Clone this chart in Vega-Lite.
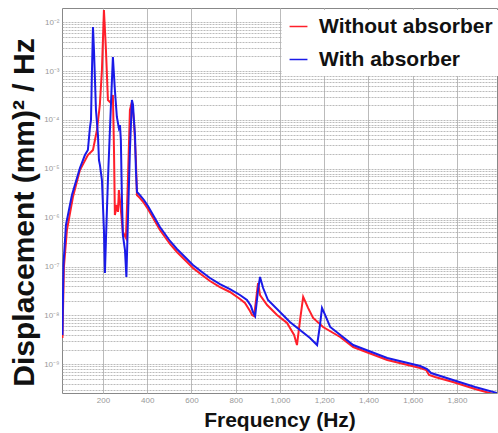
{
  "$schema": "https://vega.github.io/schema/vega-lite/v6.json",
  "width": 435,
  "height": 385,
  "autosize": {"type": "none"},
  "padding": {"left": 62, "top": 8, "right": 1, "bottom": 40},
  "background": "white",
  "config": {
    "view": {"stroke": "#888", "strokeWidth": 1},
    "font": "Liberation Sans"
  },
  "data": {
    "values": [
      {"series": "Without absorber", "f": 17, "d": 3.44e-9},
      {"series": "Without absorber", "f": 23.7, "d": 9.77e-8},
      {"series": "Without absorber", "f": 37.3, "d": 5.58e-7},
      {"series": "Without absorber", "f": 64.4, "d": 2.64e-6},
      {"series": "Without absorber", "f": 96, "d": 9.44e-6},
      {"series": "Without absorber", "f": 132, "d": 1.91e-5},
      {"series": "Without absorber", "f": 155, "d": 2.42e-5},
      {"series": "Without absorber", "f": 173, "d": 6.22e-5},
      {"series": "Without absorber", "f": 186, "d": 2.02e-4},
      {"series": "Without absorber", "f": 195.5, "d": 1.05e-3},
      {"series": "Without absorber", "f": 204.5, "d": 1.78e-2},
      {"series": "Without absorber", "f": 213.6, "d": 2.70e-3},
      {"series": "Without absorber", "f": 222.6, "d": 2.56e-4},
      {"series": "Without absorber", "f": 236, "d": 2.22e-4},
      {"series": "Without absorber", "f": 245, "d": 3.24e-4},
      {"series": "Without absorber", "f": 250, "d": 2.42e-5},
      {"series": "Without absorber", "f": 254, "d": 1.13e-6},
      {"series": "Without absorber", "f": 263, "d": 1.82e-6},
      {"series": "Without absorber", "f": 268, "d": 1.31e-6},
      {"series": "Without absorber", "f": 272, "d": 3.68e-6},
      {"series": "Without absorber", "f": 281, "d": 1.44e-6},
      {"series": "Without absorber", "f": 290, "d": 5.08e-7},
      {"series": "Without absorber", "f": 304, "d": 3.83e-7},
      {"series": "Without absorber", "f": 313, "d": 5.90e-6},
      {"series": "Without absorber", "f": 322, "d": 1.60e-4},
      {"series": "Without absorber", "f": 331, "d": 2.33e-4},
      {"series": "Without absorber", "f": 340, "d": 9.95e-5},
      {"series": "Without absorber", "f": 349, "d": 1.51e-5},
      {"series": "Without absorber", "f": 353.7, "d": 2.90e-6},
      {"series": "Without absorber", "f": 367.3, "d": 2.52e-6},
      {"series": "Without absorber", "f": 385.3, "d": 2.00e-6},
      {"series": "Without absorber", "f": 403.4, "d": 1.50e-6},
      {"series": "Without absorber", "f": 421.5, "d": 1.08e-6},
      {"series": "Without absorber", "f": 439.6, "d": 7.76e-7},
      {"series": "Without absorber", "f": 457.7, "d": 5.58e-7},
      {"series": "Without absorber", "f": 480.3, "d": 4.02e-7},
      {"series": "Without absorber", "f": 502.9, "d": 2.89e-7},
      {"series": "Without absorber", "f": 534.5, "d": 1.98e-7},
      {"series": "Without absorber", "f": 570.7, "d": 1.36e-7},
      {"series": "Without absorber", "f": 606.8, "d": 9.31e-8},
      {"series": "Without absorber", "f": 647.5, "d": 6.70e-8},
      {"series": "Without absorber", "f": 683.7, "d": 5.05e-8},
      {"series": "Without absorber", "f": 728.9, "d": 3.80e-8},
      {"series": "Without absorber", "f": 774.1, "d": 3.01e-8},
      {"series": "Without absorber", "f": 819.3, "d": 2.16e-8},
      {"series": "Without absorber", "f": 841.9, "d": 1.79e-8},
      {"series": "Without absorber", "f": 864.5, "d": 1.23e-8},
      {"series": "Without absorber", "f": 874, "d": 1.02e-8},
      {"series": "Without absorber", "f": 883, "d": 9.68e-9},
      {"series": "Without absorber", "f": 892, "d": 2.06e-8},
      {"series": "Without absorber", "f": 901, "d": 4.59e-8},
      {"series": "Without absorber", "f": 910, "d": 2.61e-8},
      {"series": "Without absorber", "f": 942, "d": 1.63e-8},
      {"series": "Without absorber", "f": 987, "d": 1.02e-8},
      {"series": "Without absorber", "f": 1032, "d": 6.97e-9},
      {"series": "Without absorber", "f": 1064, "d": 3.96e-9},
      {"series": "Without absorber", "f": 1077, "d": 2.47e-9},
      {"series": "Without absorber", "f": 1091, "d": 8.04e-9},
      {"series": "Without absorber", "f": 1105, "d": 2.38e-8},
      {"series": "Without absorber", "f": 1127, "d": 1.42e-8},
      {"series": "Without absorber", "f": 1150, "d": 8.83e-9},
      {"series": "Without absorber", "f": 1195, "d": 5.78e-9},
      {"series": "Without absorber", "f": 1272, "d": 3.61e-9},
      {"series": "Without absorber", "f": 1331, "d": 2.25e-9},
      {"series": "Without absorber", "f": 1485, "d": 1.22e-9},
      {"series": "Without absorber", "f": 1634, "d": 8.36e-10},
      {"series": "Without absorber", "f": 1661, "d": 7.60e-10},
      {"series": "Without absorber", "f": 1674, "d": 6.01e-10},
      {"series": "Without absorber", "f": 1701, "d": 5.47e-10},
      {"series": "Without absorber", "f": 1782, "d": 4.33e-10},
      {"series": "Without absorber", "f": 1882, "d": 3.11e-10},
      {"series": "Without absorber", "f": 1981, "d": 2.34e-10},
      {"series": "With absorber", "f": 17, "d": 3.96e-9},
      {"series": "With absorber", "f": 21.5, "d": 1.07e-7},
      {"series": "With absorber", "f": 32.8, "d": 7.06e-7},
      {"series": "With absorber", "f": 59.9, "d": 2.90e-6},
      {"series": "With absorber", "f": 96, "d": 1.04e-5},
      {"series": "With absorber", "f": 118.7, "d": 1.91e-5},
      {"series": "With absorber", "f": 132, "d": 2.42e-5},
      {"series": "With absorber", "f": 141, "d": 6.82e-5},
      {"series": "With absorber", "f": 146, "d": 9.95e-5},
      {"series": "With absorber", "f": 150.5, "d": 1.05e-3},
      {"series": "With absorber", "f": 155, "d": 7.98e-3},
      {"series": "With absorber", "f": 159.5, "d": 2.70e-3},
      {"series": "With absorber", "f": 168.5, "d": 1.60e-4},
      {"series": "With absorber", "f": 177.5, "d": 4.91e-5},
      {"series": "With absorber", "f": 182, "d": 1.51e-5},
      {"series": "With absorber", "f": 186.5, "d": 1.19e-5},
      {"series": "With absorber", "f": 195.5, "d": 5.89e-6},
      {"series": "With absorber", "f": 204.5, "d": 5.58e-7},
      {"series": "With absorber", "f": 209, "d": 7.36e-8},
      {"series": "With absorber", "f": 213.6, "d": 3.48e-7},
      {"series": "With absorber", "f": 222.6, "d": 5.90e-6},
      {"series": "With absorber", "f": 231.6, "d": 6.22e-5},
      {"series": "With absorber", "f": 240.7, "d": 6.56e-4},
      {"series": "With absorber", "f": 245, "d": 1.94e-3},
      {"series": "With absorber", "f": 254, "d": 4.09e-4},
      {"series": "With absorber", "f": 263, "d": 1.15e-4},
      {"series": "With absorber", "f": 272, "d": 6.82e-5},
      {"series": "With absorber", "f": 277, "d": 7.87e-5},
      {"series": "With absorber", "f": 281, "d": 3.88e-5},
      {"series": "With absorber", "f": 286, "d": 2.30e-6},
      {"series": "With absorber", "f": 290, "d": 4.42e-7},
      {"series": "With absorber", "f": 299.5, "d": 2.18e-7},
      {"series": "With absorber", "f": 306, "d": 6.10e-8},
      {"series": "With absorber", "f": 313, "d": 8.95e-7},
      {"series": "With absorber", "f": 322, "d": 2.42e-5},
      {"series": "With absorber", "f": 331, "d": 2.56e-4},
      {"series": "With absorber", "f": 336, "d": 2.02e-4},
      {"series": "With absorber", "f": 340, "d": 9.95e-5},
      {"series": "With absorber", "f": 345, "d": 4.91e-5},
      {"series": "With absorber", "f": 349, "d": 9.44e-6},
      {"series": "With absorber", "f": 354, "d": 3.35e-6},
      {"series": "With absorber", "f": 367.3, "d": 2.90e-6},
      {"series": "With absorber", "f": 385.3, "d": 2.30e-6},
      {"series": "With absorber", "f": 403.4, "d": 1.73e-6},
      {"series": "With absorber", "f": 421.5, "d": 1.24e-6},
      {"series": "With absorber", "f": 439.6, "d": 8.95e-7},
      {"series": "With absorber", "f": 457.7, "d": 6.43e-7},
      {"series": "With absorber", "f": 480.3, "d": 4.62e-7},
      {"series": "With absorber", "f": 502.9, "d": 3.33e-7},
      {"series": "With absorber", "f": 534.5, "d": 2.28e-7},
      {"series": "With absorber", "f": 570.7, "d": 1.56e-7},
      {"series": "With absorber", "f": 606.8, "d": 1.07e-7},
      {"series": "With absorber", "f": 647.5, "d": 7.71e-8},
      {"series": "With absorber", "f": 683.7, "d": 5.81e-8},
      {"series": "With absorber", "f": 728.9, "d": 4.38e-8},
      {"series": "With absorber", "f": 774.1, "d": 3.46e-8},
      {"series": "With absorber", "f": 819.3, "d": 2.61e-8},
      {"series": "With absorber", "f": 850.9, "d": 2.06e-8},
      {"series": "With absorber", "f": 869, "d": 1.55e-8},
      {"series": "With absorber", "f": 878, "d": 1.17e-8},
      {"series": "With absorber", "f": 888, "d": 9.68e-9},
      {"series": "With absorber", "f": 901, "d": 3.30e-8},
      {"series": "With absorber", "f": 910, "d": 6.10e-8},
      {"series": "With absorber", "f": 924, "d": 3.63e-8},
      {"series": "With absorber", "f": 946, "d": 2.06e-8},
      {"series": "With absorber", "f": 1045, "d": 7.31e-9},
      {"series": "With absorber", "f": 1136, "d": 3.44e-9},
      {"series": "With absorber", "f": 1168, "d": 2.47e-9},
      {"series": "With absorber", "f": 1181, "d": 6.35e-9},
      {"series": "With absorber", "f": 1190, "d": 1.42e-8},
      {"series": "With absorber", "f": 1204, "d": 1.02e-8},
      {"series": "With absorber", "f": 1227, "d": 5.78e-9},
      {"series": "With absorber", "f": 1331, "d": 2.47e-9},
      {"series": "With absorber", "f": 1485, "d": 1.34e-9},
      {"series": "With absorber", "f": 1634, "d": 9.18e-10},
      {"series": "With absorber", "f": 1665, "d": 7.96e-10},
      {"series": "With absorber", "f": 1683, "d": 6.59e-10},
      {"series": "With absorber", "f": 1782, "d": 4.75e-10},
      {"series": "With absorber", "f": 1882, "d": 3.42e-10},
      {"series": "With absorber", "f": 1981, "d": 2.58e-10}
    ]
  },
  "mark": {"type": "line", "strokeWidth": 2, "clip": true},
  "encoding": {
    "x": {
      "field": "f",
      "type": "quantitative",
      "scale": {"domain": [15, 1981], "nice": false, "zero": false},
      "axis": {
        "values": [200, 400, 600, 800, 1000, 1200, 1400, 1600, 1800],
        "title": "Frequency (Hz)",
        "titleFont": "Liberation Sans",
        "titleFontSize": 21,
        "titleFontWeight": "bold",
        "titleColor": "#111",
        "titlePadding": 5,
        "labelFontSize": 8,
        "labelColor": "#999",
        "labelPadding": 3,
        "ticks": false,
        "domain": false,
        "grid": true,
        "gridColor": "#bbb",
        "gridWidth": 1
      }
    },
    "y": {
      "field": "d",
      "type": "quantitative",
      "scale": {"type": "log", "domain": [2.576e-10, 1.954e-2], "nice": false},
      "axis": {
        "values": [3e-10, 4e-10, 5e-10, 6e-10, 7e-10, 8e-10, 9e-10,
          1e-9, 2e-9, 3e-9, 4e-9, 5e-9, 6e-9, 7e-9, 8e-9, 9e-9,
          1e-8, 2e-8, 3e-8, 4e-8, 5e-8, 6e-8, 7e-8, 8e-8, 9e-8,
          1e-7, 2e-7, 3e-7, 4e-7, 5e-7, 6e-7, 7e-7, 8e-7, 9e-7,
          1e-6, 2e-6, 3e-6, 4e-6, 5e-6, 6e-6, 7e-6, 8e-6, 9e-6,
          1e-5, 2e-5, 3e-5, 4e-5, 5e-5, 6e-5, 7e-5, 8e-5, 9e-5,
          1e-4, 2e-4, 3e-4, 4e-4, 5e-4, 6e-4, 7e-4, 8e-4, 9e-4,
          1e-3, 2e-3, 3e-3, 4e-3, 5e-3, 6e-3, 7e-3, 8e-3, 9e-3,
          1e-2],
        "labelExpr": "abs(log(datum.value)/LN10 - round(log(datum.value)/LN10)) < 0.001 ? '10' + '⁻' + ['⁰','¹','²','³','⁴','⁵','⁶','⁷','⁸','⁹','¹⁰'][-round(log(datum.value)/LN10)] : ''",
        "title": "Displacement (mm)² / Hz",
        "titleFont": "Liberation Sans",
        "titleFontSize": 30,
        "titleFontWeight": "bold",
        "titleColor": "#111",
        "titlePadding": 4,
        "titleY": 204,
        "labelFontSize": 8,
        "labelColor": "#999",
        "labelPadding": 3,
        "ticks": false,
        "domain": false,
        "grid": true,
        "gridColor": "#aaa",
        "gridDash": [2, 1],
        "gridWidth": 0.8
      }
    },
    "color": {
      "field": "series",
      "type": "nominal",
      "sort": ["Without absorber", "With absorber"],
      "scale": {"domain": ["Without absorber", "With absorber"], "range": ["#ff1f2a", "#1a1ae8"]},
      "legend": {
        "title": null,
        "orient": "none",
        "legendX": 220,
        "legendY": 2,
        "fillColor": "white",
        "padding": 6,
        "symbolType": "stroke",
        "symbolSize": 320,
        "symbolStrokeWidth": 1.5,
        "labelFont": "Liberation Sans",
        "labelFontSize": 21,
        "labelFontWeight": "bold",
        "labelColor": "#111",
        "labelOffset": 10,
        "labelLimit": 300,
        "rowPadding": 11
      }
    }
  }
}
